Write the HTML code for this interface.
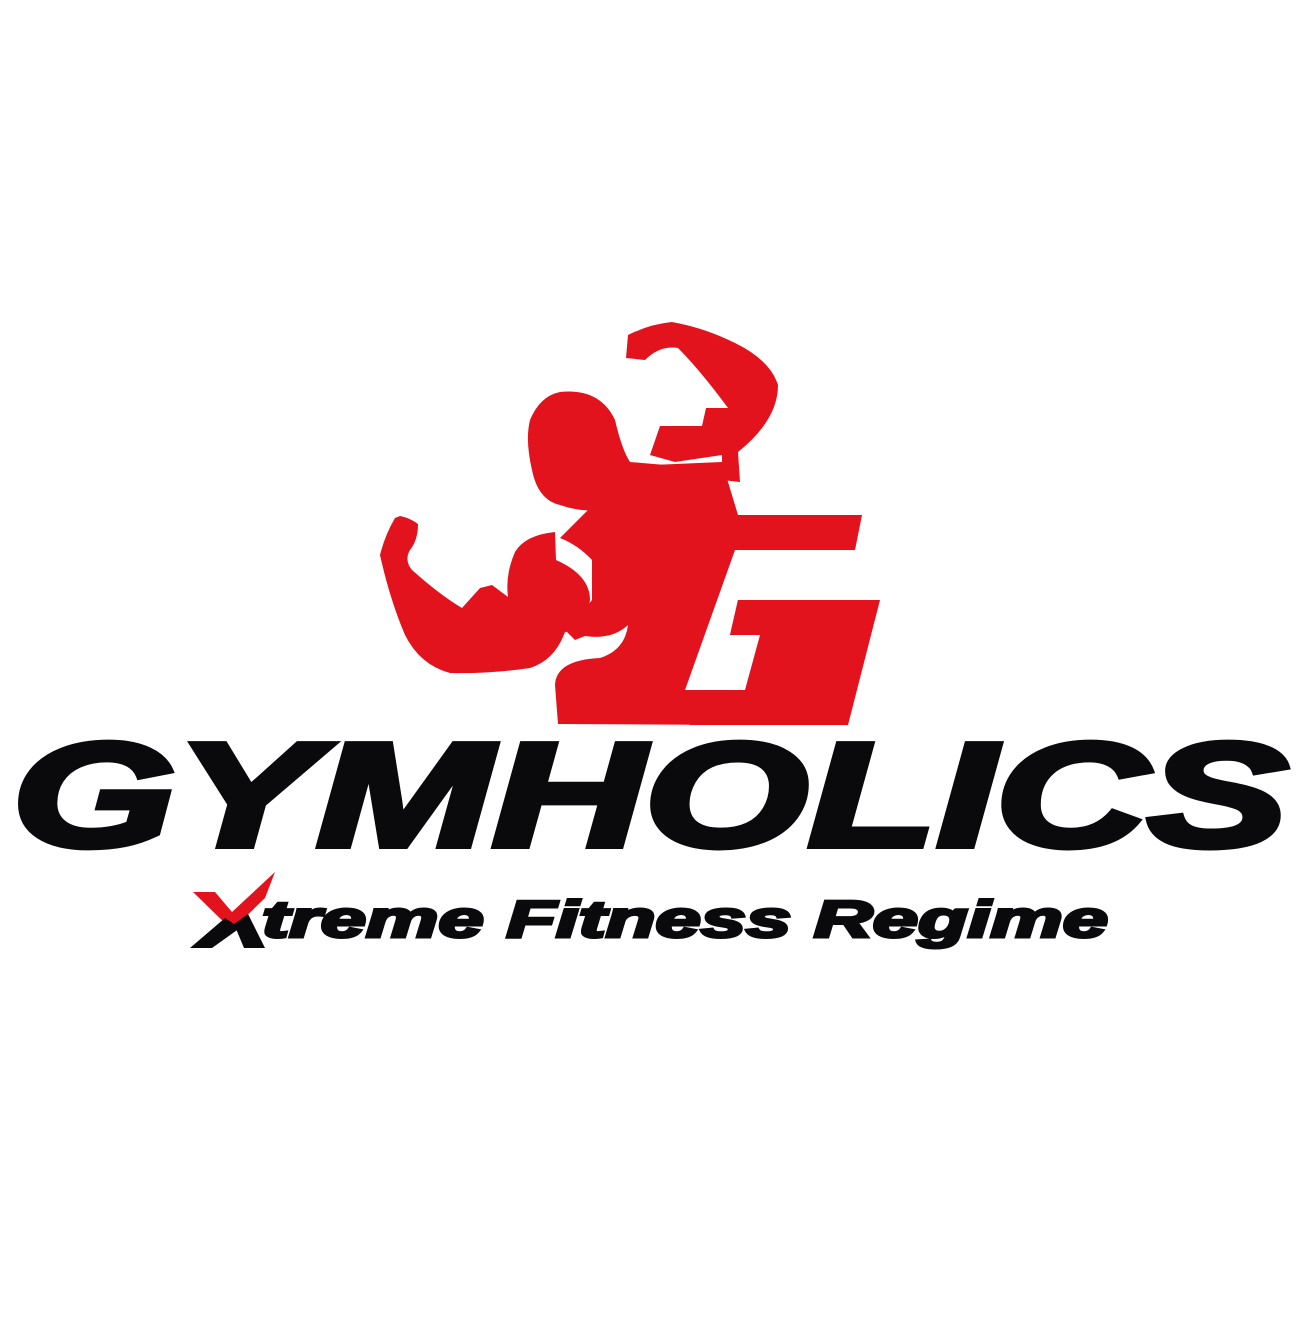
<!DOCTYPE html>
<html>
<head>
<meta charset="utf-8">
<style>
  html,body{margin:0;padding:0;background:#fff;}
  svg{display:block;}
</style>
</head>
<body>
<svg width="1300" height="1341" viewBox="0 0 1300 1341" xmlns="http://www.w3.org/2000/svg">
  <rect width="1300" height="1341" fill="#ffffff"/>
  <g fill="#e3131e">
    <path d="M628 335 L626 358 L645 360 Q660 345 678 348 Q700 370 728 408 L706 408 L702 426 L660 426 L650 455 L675 462 L722 455 L722 480 L740 482 L738 452 Q778 420 778 385 Q770 360 735 343 Q705 328 672 322 Q650 324 628 335 Z"/>
    <path d="M560 392 Q600 388 615 420 Q622 450 630 462 L700 468 L700 510 L600 510 Q580 512 560 505 Q538 500 532 470 Q525 440 530 420 Q540 396 560 392 Z"/>
    <path d="M558 724 L555 685 Q556 660 600 658 Q625 650 628 625 Q612 640 585 636 L575 640 L565 630 Q580 615 592 600 L592 560 Q578 545 560 538 L588 510 L630 466 L722 462 L738 515 L738 725 Z"/>
    <path d="M400 516 Q410 518 418 524 Q418 540 410 550 Q404 560 412 570 Q440 595 462 608 L480 588 L492 585 L508 597 Q505 575 515 552 Q525 535 555 532 L556 560 Q590 575 590 600 Q585 630 565 632 Q555 660 530 668 Q490 674 450 673 Q420 665 405 635 Q390 600 380 555 Q385 535 395 518 Z"/>
  </g>
  <path fill="#ffffff" d="M735 550 L880 550 L880 600 L738 600 L730 635 L760 635 L745 690 L685 690 Z"/>
  <g fill="#e3131e">
    <path d="M735 515 L862 515 L855 550 L730 550 Z"/>
    <path d="M738 600 L880 600 L848 725 L690 725 L690 690 L745 690 L760 635 L730 635 Z"/>
  </g>

  <text x="12" y="846" font-family="Liberation Sans, sans-serif" font-weight="bold" font-style="italic" font-size="148" fill="#0a0a0c" stroke="#0a0a0c" stroke-width="6" textLength="1276" lengthAdjust="spacingAndGlyphs">GYMHOLICS</text>

  <g>
    <path fill="#e3131e" d="M193 892 L215 892 L232 912 L275 872 L265 898 L232 930 Z"/>
    <path fill="#0a0a0c" d="M190 948 L225 918 L240 928 L212 948 Z M234 924 L248 914 L265 948 L244 948 Z"/>
  </g>
  <text x="262" y="937" font-family="Liberation Sans, sans-serif" font-weight="bold" font-style="italic" font-size="52" fill="#0a0a0c" stroke="#0a0a0c" stroke-width="3" textLength="846" lengthAdjust="spacingAndGlyphs">treme Fitness Regime</text>
</svg>
</body>
</html>
